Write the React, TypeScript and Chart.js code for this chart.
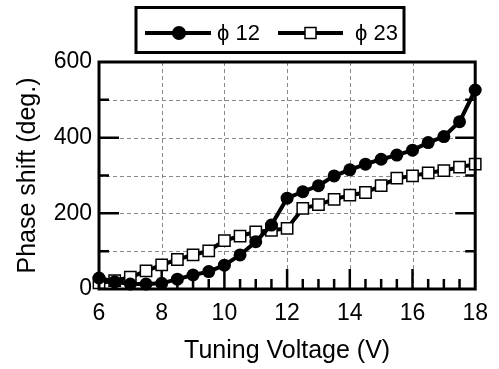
import React, { useEffect, useRef } from "react";
import { Chart, registerables } from "chart.js";

Chart.register(...registerables);

const voltages = [6, 6.5, 7, 7.5, 8, 8.5, 9, 9.5, 10, 10.5, 11, 11.5, 12, 12.5, 13, 13.5, 14, 14.5, 15, 15.5, 16, 16.5, 17, 17.5, 18];
const phi12 = [29, 19, 13, 13, 15, 26, 37, 46, 63, 90, 125, 169, 240, 257, 273, 299, 315, 330, 343, 354, 367, 387, 403, 442, 526];
const phi23 = [16, 22, 31, 48, 64, 78, 90, 101, 128, 140, 151, 155, 160, 213, 223, 237, 248, 255, 273, 293, 299, 307, 313, 322, 330];
const legendLabels = ["\u03D5 12", "\u03D5 23"];
const xTitle = "Tuning Voltage (V)";
const yTitle = "Phase shift (deg.)";

const FONT = "'Liberation Sans', Arial, Helvetica, sans-serif";

const framePlugin = {
  id: "framePlugin",
  beforeDatasetsDraw(chart: any) {
    const { ctx, chartArea: a, scales } = chart;
    const xs = scales.x;
    const ys = scales.y;
    ctx.save();
    ctx.strokeStyle = "#8a8a8a";
    ctx.lineWidth = 1;
    ctx.setLineDash([4, 3]);
    for (let v = 8; v <= 16; v += 2) {
      const px = Math.round(xs.getPixelForValue(v)) + 0.5;
      ctx.beginPath();
      ctx.moveTo(px, a.top);
      ctx.lineTo(px, a.bottom);
      ctx.stroke();
    }
    for (let v = 100; v <= 500; v += 100) {
      const py = Math.round(ys.getPixelForValue(v)) + 0.5;
      ctx.beginPath();
      ctx.moveTo(a.left, py);
      ctx.lineTo(a.right, py);
      ctx.stroke();
    }
    ctx.setLineDash([]);
    ctx.strokeStyle = "#000";
    ctx.lineWidth = 2.5;
    for (let v = 6.5; v < 18; v += 0.5) {
      const px = xs.getPixelForValue(v);
      const len = Math.abs(v % 2) < 1e-6 ? 20 : 10;
      ctx.beginPath();
      ctx.moveTo(px, a.bottom);
      ctx.lineTo(px, a.bottom - len);
      ctx.stroke();
    }
    for (let v = 100; v < 600; v += 100) {
      const py = ys.getPixelForValue(v);
      const len = v % 200 === 0 ? 20 : 10;
      ctx.beginPath();
      ctx.moveTo(a.left, py);
      ctx.lineTo(a.left + len, py);
      ctx.moveTo(a.right, py);
      ctx.lineTo(a.right - len, py);
      ctx.stroke();
    }
    ctx.restore();
  },
  afterDatasetsDraw(chart: any) {
    const { ctx, chartArea: a } = chart;
    ctx.save();
    ctx.strokeStyle = "#000";
    ctx.lineWidth = 3;
    ctx.strokeRect(a.left, a.top, a.right - a.left, a.bottom - a.top);
    ctx.lineWidth = 3;
    ctx.strokeRect(136, 7.5, 268, 45);
    const ly = 33;
    ctx.lineWidth = 4;
    ctx.beginPath();
    ctx.moveTo(145, ly);
    ctx.lineTo(211, ly);
    ctx.moveTo(278, ly);
    ctx.lineTo(343, ly);
    ctx.stroke();
    ctx.fillStyle = "#000";
    ctx.beginPath();
    ctx.arc(179, ly, 7, 0, Math.PI * 2);
    ctx.fill();
    ctx.fillStyle = "#fff";
    ctx.lineWidth = 1.5;
    ctx.fillRect(305, ly - 5.5, 11, 11);
    ctx.strokeRect(305, ly - 5.5, 11, 11);
    ctx.fillStyle = "#000";
    ctx.font = `22px ${FONT}`;
    ctx.textBaseline = "middle";
    ctx.textAlign = "left";
    ctx.fillText(legendLabels[0], 217, ly + 1);
    ctx.fillText(legendLabels[1], 355, ly + 1);
    ctx.restore();
  },
};

export default function App() {
  const ref = useRef<HTMLCanvasElement | null>(null);
  useEffect(() => {
    if (!ref.current) return;
    const chart = new Chart(ref.current, {
      type: "line",
      data: {
        datasets: [
          {
            label: legendLabels[0],
            data: voltages.map((v, i) => ({ x: v, y: phi12[i] })),
            borderColor: "#000",
            backgroundColor: "#000",
            borderWidth: 4,
            pointStyle: "circle",
            pointRadius: 6.5,
            pointBorderWidth: 0,
            pointBackgroundColor: "#000",
            tension: 0,
            clip: false,
          },
          {
            label: legendLabels[1],
            data: voltages.map((v, i) => ({ x: v, y: phi23[i] })),
            borderColor: "#000",
            backgroundColor: "#fff",
            borderWidth: 4,
            pointStyle: "rect",
            pointRadius: 8,
            pointBorderWidth: 1.5,
            pointBorderColor: "#000",
            pointBackgroundColor: "#fff",
            tension: 0,
            clip: false,
          },
        ],
      },
      options: {
        animation: false,
        responsive: false,
        maintainAspectRatio: false,
        layout: { padding: { left: 0, top: 62, right: 18, bottom: 0 } },
        plugins: { legend: { display: false }, tooltip: { enabled: false } },
        scales: {
          x: {
            type: "linear",
            min: 6,
            max: 18,
            grid: { display: false, drawTicks: false },
            border: { display: false },
            ticks: { stepSize: 2, color: "#000", padding: 11, font: { family: FONT, size: 23 } },
            title: { display: true, text: xTitle, color: "#000", font: { family: FONT, size: 25 }, padding: { top: 0, bottom: 3 } },
            afterFit: (s: any) => { s.height = 80; },
          },
          y: {
            type: "linear",
            min: 0,
            max: 600,
            grid: { display: false, drawTicks: false },
            border: { display: false },
            ticks: { stepSize: 200, color: "#000", padding: 7, font: { family: FONT, size: 23 } },
            title: { display: true, text: yTitle, color: "#000", font: { family: FONT, size: 25 }, padding: { top: 13, bottom: 0 } },
            afterFit: (s: any) => { s.width = 99; },
          },
        },
      },
      plugins: [framePlugin],
    } as any);
    return () => chart.destroy();
  }, []);
  return (
    <div style={{ position: "absolute", left: 0, top: 0, width: 499, height: 369, background: "#fff" }}>
      <canvas ref={ref} width={499} height={369} style={{ width: 499, height: 369, display: "block" }} />
    </div>
  );
}
